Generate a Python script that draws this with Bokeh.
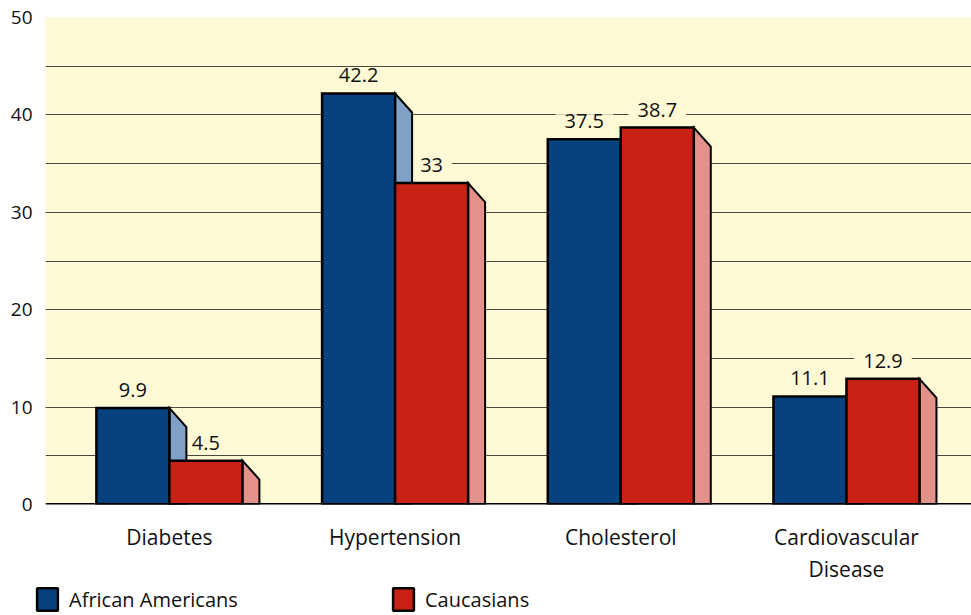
from bokeh.plotting import figure
from bokeh.layouts import column
from bokeh.models import (Range1d, SingleIntervalTicker, FixedTicker, Span, Legend, LegendItem,
                          ColumnDataSource)
from bokeh.core.properties import value
from bokeh.embed import file_html
from bokeh.resources import INLINE

# ---- data ----
categories = ["Diabetes", "Hypertension", "Cholesterol", "Cardiovascular\nDisease"]
african_americans = [9.9, 42.2, 37.5, 11.1]
caucasians = [4.5, 33.0, 38.7, 12.9]
aa_labels = ["9.9", "42.2", "37.5", "11.1"]
ca_labels = ["4.5", "33", "38.7", "12.9"]
series_names = ["African Americans", "Caucasians"]

# ---- style / geometry ----
FONT = "Open Sans"
BG = "#FFF9D6"
BLUE, BLUE_SIDE = "#05427F", "#7FA1C5"
RED, RED_SIDE = "#C82216", "#E4918A"
BW = 0.3235      # bar width (category units)
DX = 0.0753      # 3D depth, horizontal
DY = 1.95        # 3D depth, vertical (value units)

p = figure(width=971, height=585, output_backend="svg", toolbar_location=None,
           x_range=Range1d(-0.549, 3.554), y_range=Range1d(0, 50),
           min_border_left=45, min_border_right=0, min_border_top=17, min_border_bottom=80)
p.background_fill_color = BG
p.border_fill_color = "white"
p.outline_line_color = None

idx = list(range(len(categories)))

# value labels first, so that the bars cover their background boxes
lab_src = ColumnDataSource(dict(
    x=[i - BW / 2 for i in idx] + [i + BW / 2 for i in idx],
    y=african_americans + caucasians,
    t=aa_labels + ca_labels))
p.text(x="x", y="y", text="t", source=lab_src, y_offset=-18,
       text_align="center", text_baseline="middle", text_font=value(FONT),
       text_font_size="20px", text_color="#111111",
       background_fill_color=BG, padding=dict(left=9, right=9, top=0, bottom=0))

def side(xr, v):
    return [xr, xr + DX, xr + DX, xr], [v, v - DY, 0, 0]

b_xs, b_ys, r_xs, r_ys = [], [], [], []
for i in idx:
    xs, ys = side(i, african_americans[i]); b_xs.append(xs); b_ys.append(ys)
    xs, ys = side(i + BW, caucasians[i]); r_xs.append(xs); r_ys.append(ys)

p.patches(b_xs, b_ys, fill_color=BLUE_SIDE, line_color="black", line_width=2, line_join="miter")
p.quad(left=[i - BW for i in idx], right=idx, bottom=0, top=african_americans,
       fill_color=BLUE, line_color="black", line_width=2.5, line_join="miter")
p.patches(r_xs, r_ys, fill_color=RED_SIDE, line_color="black", line_width=2, line_join="miter")
p.quad(left=idx, right=[i + BW for i in idx], bottom=0, top=caucasians,
       fill_color=RED, line_color="black", line_width=2.5, line_join="miter")

p.add_layout(Span(location=0, dimension="width", line_color="black", line_width=3))

# axes
p.yaxis.ticker = SingleIntervalTicker(interval=10, num_minor_ticks=2)
p.yaxis.axis_line_color = None
p.yaxis.major_tick_out = 0
p.yaxis.major_tick_in = 0
p.yaxis.minor_tick_out = 0
p.yaxis.minor_tick_in = 0
p.yaxis.major_label_standoff = 13
p.yaxis.major_label_text_font = FONT
p.yaxis.major_label_text_font_size = "19px"
p.yaxis.major_label_text_color = "#111111"

p.xaxis.ticker = FixedTicker(ticks=idx)
p.xaxis.major_label_overrides = {i: c for i, c in zip(idx, categories)}
p.xaxis.axis_line_color = None
p.xaxis.major_tick_out = 0
p.xaxis.major_tick_in = 0
p.xaxis.minor_tick_out = 0
p.xaxis.major_label_standoff = 18
p.xaxis.major_label_text_font = FONT
p.xaxis.major_label_text_font_size = "21px"
p.xaxis.major_label_text_color = "#111111"
p.xaxis.major_label_text_line_height = 1.15

p.xgrid.grid_line_color = None
p.ygrid.grid_line_color = "#4a4a40"
p.ygrid.minor_grid_line_color = "#4a4a40"
p.ygrid.grid_line_width = 1.2
p.ygrid.minor_grid_line_width = 1.2

# ---- legend strip below the chart ----
lg = figure(width=971, height=30, output_backend="svg", toolbar_location=None,
            x_range=Range1d(0, 1), y_range=Range1d(0, 1),
            x_axis_type=None, y_axis_type=None,
            min_border_left=0, min_border_right=0, min_border_top=0, min_border_bottom=0)
lg.outline_line_color = None
lg.xgrid.visible = False
lg.ygrid.visible = False
loc_x = -10
if "frame_align" in lg.properties():
    lg.frame_align = False
    loc_x = 34
# swatch renderers live outside the visible range; only the legend shows them
sw_blue = lg.quad(left=[-3], right=[-2], bottom=[-3], top=[-2], fill_color=BLUE,
                  line_color="black", line_width=2.5)
sw_red = lg.quad(left=[-3], right=[-2], bottom=[-3], top=[-2], fill_color=RED,
                 line_color="black", line_width=2.5)
legend = Legend(items=[LegendItem(label=series_names[0], renderers=[sw_blue]),
                       LegendItem(label=series_names[1], renderers=[sw_red])],
                location=(loc_x, 2), orientation="horizontal",
                glyph_width=26, glyph_height=28, label_standoff=9,
                label_width=313, spacing=8, padding=0, margin=0,
                border_line_color=None, background_fill_alpha=0,
                label_text_font=FONT, label_text_font_size="20px",
                label_text_color="#111111")
lg.add_layout(legend, "center")

layout = column(p, lg, spacing=0)
open("out.html", "w").write(file_html(layout, INLINE))
